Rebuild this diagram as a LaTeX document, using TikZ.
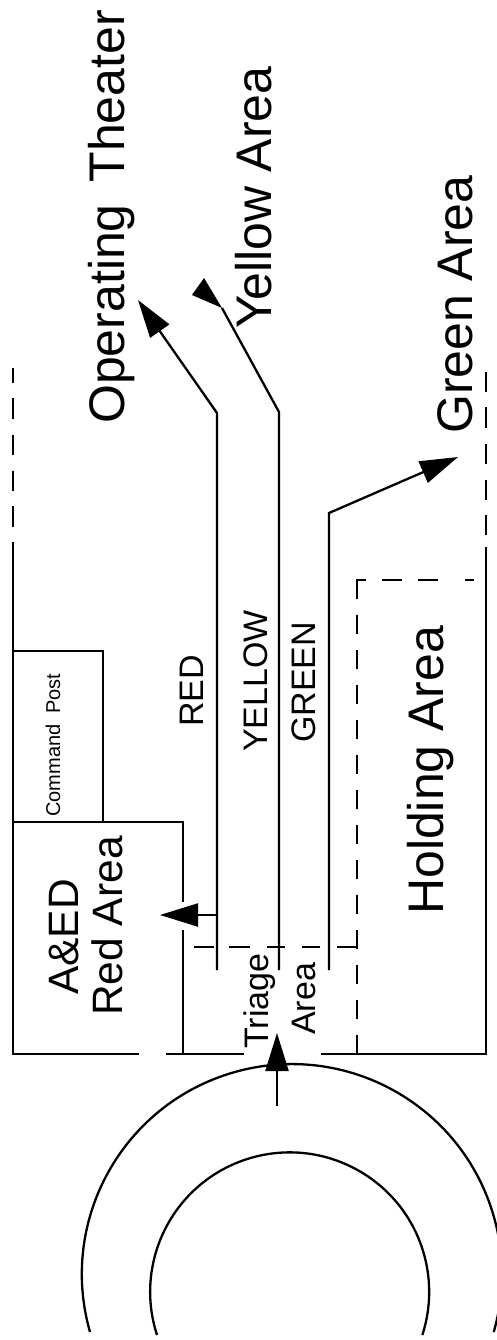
\documentclass[tikz,border=0pt]{standalone}
\usepackage{fontspec}
\setmainfont{Liberation Sans}
\usetikzlibrary{arrows.meta}
\tikzset{
    wall/.style={line width=2.3pt},
    dashwall/.style={line width=2.3pt,dash pattern=on 19pt off 16pt},
    flow/.style={line width=2.3pt,-{Triangle[length=38pt,width=23pt]}},
    txt/.style={rotate=90,anchor=base west,inner sep=0pt},
    huge/.style={txt,font=\fontsize{50}{60}\selectfont},
    large/.style={txt,font=\fontsize{42.5}{50}\selectfont},
    medium/.style={txt,font=\fontsize{34}{40}\selectfont},
    tiny/.style={txt,font=\fontsize{20}{24}\selectfont}
}
\begin{document}
\begin{tikzpicture}[x=1pt,y=-1pt]
    \useasboundingbox (0,0) rectangle (497,1340);
    % Muro exterior
    \draw[wall] (13,542) -- (13,1054) -- (139,1054);
    \draw[wall] (166,1054) -- (244,1054);
    \draw[wall] (321,1054) -- (486,1054) -- (486,547);
    \foreach \a/\b in {368/383,398/419,435/455,471/491,506/527}
        \draw[wall] (13,\a) -- (13,\b);
    \foreach \a/\b in {372/392,407/428,444/464,480/500,515/535}
        \draw[wall] (486,\a) -- (486,\b);
    % Puesto de mando
    \draw[wall] (13,651) -- (103,651) -- (103,822);
    \node[tiny] (post) at (60,817) {Command\ \ Post};
    % Zona roja
    \draw[wall] (13,822) -- (183,822) -- (183,902);
    \draw[wall] (183,930) -- (183,1054);
    \node[large] (aed) at (78,995) {A\&ED};
    \node[large] (redarea) at (122.7,1016) {Red Area};
    % Carriles
    \coordinate (redlow) at (217,970);
    \coordinate (redbend) at (217,413);
    \coordinate (redtip) at (138,300);
    \coordinate (redside) at (217,915);
    \coordinate (redin) at (160,915);
    \coordinate (yelow) at (279,970);
    \coordinate (yebend) at (279,412);
    \coordinate (yeend) at (222,308);
    \coordinate (yetip) at (204,278);
    \coordinate (yeleft) at (192,295);
    \coordinate (grlow) at (329,970);
    \coordinate (grbend) at (329,513);
    \coordinate (grtip) at (458,457);
    \draw[flow] (redlow) -- (redbend) -- (redtip);
    \draw[flow] (redside) -- (redin);
    \draw[wall] (yelow) -- (yebend) -- (yeend);
    \fill (yetip) -- (yeleft) -- (yeend) -- cycle;
    \draw[flow] (grlow) -- (grbend) -- (grtip);
    \node[medium] (red) at (203,727) {RED};
    \node[medium] (yellow) at (267,752) {YELLOW};
    \node[medium] (green) at (315,743) {GREEN};
    % Zona de espera
    \draw[dashwall] (357,1054) -- (357,590);
    \draw[wall] (366,580) -- (357,580) -- (357,590);
    \foreach \a/\b in {382/402,418/438,465/474}
        \draw[wall] (\a,580) -- (\b,580);
    \foreach \a/\b in {194/214,229/250,267/285,302/320,337/357}
        \draw[wall] (\a,947) -- (\b,947);
    \node[huge] (holding) at (443,915) {Holding Area};
    % Triage
    \node[medium] (triage) at (268,1049) {Triage};
    \node[medium] (area) at (315,1035) {Area};
    \coordinate (entry) at (277,1106);
    \coordinate (entrytip) at (277,1033);
    % Rotonda
    \draw[wall] (90,1332) arc[start angle=196,end angle=-16,radius=210pt];
    \draw[wall] (157,1335) arc[start angle=198,end angle=-18,radius=139.5pt];
    \draw[flow] (entry) -- (entrytip);
    % Destinos
    \node[huge] (theater) at (124,424) {Operating\hspace{8pt} Theater};
    \node[huge] (yellowarea) at (271,329) {Yellow Area};
    \node[huge] (greenarea) at (472,434) {Green Area};
\end{tikzpicture}
\end{document}
